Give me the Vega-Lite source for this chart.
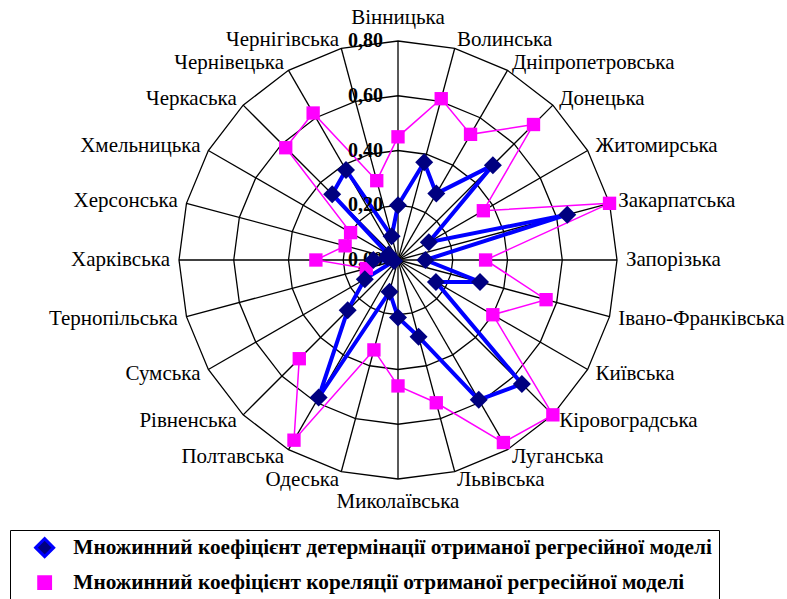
{
  "$schema": "https://vega.github.io/schema/vega-lite/v6.json",
  "width": 787,
  "height": 599,
  "padding": 0,
  "autosize": {"type": "none"},
  "background": "white",
  "config": {"view": {"stroke": null}, "font": "Liberation Serif"},
  "datasets": {
    "regions": [
      {"idx": 0, "region": "Вінницька", "det": 0.20, "cor": 0.45},
      {"idx": 1, "region": "Волинська", "det": 0.37, "cor": 0.61},
      {"idx": 2, "region": "Дніпропетровська", "det": 0.28, "cor": 0.53},
      {"idx": 3, "region": "Донецька", "det": 0.49, "cor": 0.70},
      {"idx": 4, "region": "Житомирська", "det": 0.13, "cor": 0.36},
      {"idx": 5, "region": "Закарпатська", "det": 0.64, "cor": 0.80},
      {"idx": 6, "region": "Запорізька", "det": 0.10, "cor": 0.32},
      {"idx": 7, "region": "Івано-Франківська", "det": 0.31, "cor": 0.56},
      {"idx": 8, "region": "Київська", "det": 0.16, "cor": 0.40},
      {"idx": 9, "region": "Кіровоградська", "det": 0.64, "cor": 0.80},
      {"idx": 10, "region": "Луганська", "det": 0.59, "cor": 0.77},
      {"idx": 11, "region": "Львівська", "det": 0.29, "cor": 0.54},
      {"idx": 12, "region": "Миколаївська", "det": 0.21, "cor": 0.46},
      {"idx": 13, "region": "Одеська", "det": 0.12, "cor": 0.34},
      {"idx": 14, "region": "Полтавська", "det": 0.58, "cor": 0.76},
      {"idx": 15, "region": "Рівненська", "det": 0.26, "cor": 0.51},
      {"idx": 16, "region": "Сумська", "det": 0.14, "cor": null},
      {"idx": 17, "region": "Тернопільська", "det": 0.015, "cor": 0.12},
      {"idx": 18, "region": "Харківська", "det": 0.09, "cor": 0.30},
      {"idx": 19, "region": "Херсонська", "det": 0.04, "cor": 0.20},
      {"idx": 20, "region": "Хмельницька", "det": 0.04, "cor": 0.20},
      {"idx": 21, "region": "Черкаська", "det": 0.34, "cor": 0.58},
      {"idx": 22, "region": "Чернівецька", "det": 0.38, "cor": 0.62},
      {"idx": 23, "region": "Чернігівська", "det": 0.09, "cor": 0.30}
    ],
    "ticks": [{"level": 0}, {"level": 0.2}, {"level": 0.4}, {"level": 0.6}, {"level": 0.8}]
  },
  "data": {"name": "regions"},
  "layer": [
    {
      "transform": [
        {"calculate": "[0.2, 0.4, 0.6, 0.8]", "as": "lv"},
        {"flatten": ["lv"]},
        {"calculate": "datum.lv * sin(datum.idx * PI / 12)", "as": "px"},
        {"calculate": "datum.lv * cos(datum.idx * PI / 12)", "as": "py"}
      ],
      "mark": {"type": "line", "interpolate": "linear-closed", "stroke": "black", "strokeWidth": 1.3},
      "encoding": {
        "x": {"field": "px", "type": "quantitative", "scale": {"domain": [-1.4539, 1.421], "nice": false, "zero": false}, "axis": null},
        "y": {"field": "py", "type": "quantitative", "scale": {"domain": [-1.2384, 0.9498], "nice": false, "zero": false}, "axis": null},
        "detail": {"field": "lv", "type": "nominal"},
        "order": {"field": "idx", "type": "quantitative"}
      }
    },
    {
      "transform": [
        {"calculate": "0", "as": "cx"},
        {"calculate": "0.8 * sin(datum.idx * PI / 12)", "as": "px"},
        {"calculate": "0.8 * cos(datum.idx * PI / 12)", "as": "py"}
      ],
      "mark": {"type": "rule", "stroke": "black", "strokeWidth": 1.3},
      "encoding": {
        "x": {"field": "cx", "type": "quantitative", "scale": {"domain": [-1.4539, 1.421], "nice": false, "zero": false}, "axis": null},
        "y": {"field": "cx", "type": "quantitative", "scale": {"domain": [-1.2384, 0.9498], "nice": false, "zero": false}, "axis": null},
        "x2": {"field": "px"},
        "y2": {"field": "py"}
      }
    },
    {
      "transform": [
        {"fold": ["det", "cor"], "as": ["key", "value"]},
        {"filter": "datum.key == 'cor' && isValid(datum.value)"},
        {"calculate": "datum.value * sin(datum.idx * PI / 12)", "as": "px"},
        {"calculate": "datum.value * cos(datum.idx * PI / 12)", "as": "py"},
        {"calculate": "(datum.idx + 7) % 24", "as": "ord"}
      ],
      "mark": {"type": "line", "strokeWidth": 1.5},
      "encoding": {
        "x": {"field": "px", "type": "quantitative", "scale": {"domain": [-1.4539, 1.421], "nice": false, "zero": false}, "axis": null},
        "y": {"field": "py", "type": "quantitative", "scale": {"domain": [-1.2384, 0.9498], "nice": false, "zero": false}, "axis": null},
        "order": {"field": "ord", "type": "quantitative"},
        "stroke": {
          "field": "key", "type": "nominal",
          "scale": {"domain": ["det", "cor"], "range": ["#0000FF", "#FF00FF"]},
          "legend": {
            "orient": "none", "legendX": 10, "legendY": 530, "title": null,
            "symbolSize": 300, "symbolStrokeWidth": 3, "symbolOpacity": 1,
            "labelFont": "Liberation Serif", "labelFontWeight": "bold", "labelFontSize": 21.3, "labelColor": "black", "labelLimit": 0,
            "labelOffset": 18, "symbolOffset": 17,
            "strokeColor": "black", "padding": 7, "rowPadding": 8,
            "labelExpr": "datum.label == 'det' ? 'Множинний коефіцієнт детермінації отриманої регресійної моделі' : 'Множинний коефіцієнт кореляції отриманої регресійної моделі'",
            "encode": {"symbols": {"update": {
              "stroke": {"signal": "datum.value == 'det' ? '#0000FF' : '#FF00FF'"},
              "strokeWidth": {"signal": "datum.value == 'det' ? 3 : 1.5"},
              "shape": {"signal": "datum.value == 'det' ? 'M-3,0H-0.8M0.8,0H3M0,-0.85L0.85,0L0,0.85L-0.85,0Z' : 'M-3,0H-0.77M0.77,0H3M-0.77,-0.77H0.77V0.77H-0.77Z'"}
            }}}
          }
        }
      }
    },
    {
      "transform": [
        {"fold": ["det", "cor"], "as": ["key", "value"]},
        {"filter": "datum.key == 'det' && isValid(datum.value)"},
        {"calculate": "datum.value * sin(datum.idx * PI / 12)", "as": "px"},
        {"calculate": "datum.value * cos(datum.idx * PI / 12)", "as": "py"}
      ],
      "mark": {"type": "line", "interpolate": "linear-closed", "strokeWidth": 4},
      "encoding": {
        "x": {"field": "px", "type": "quantitative", "scale": {"domain": [-1.4539, 1.421], "nice": false, "zero": false}, "axis": null},
        "y": {"field": "py", "type": "quantitative", "scale": {"domain": [-1.2384, 0.9498], "nice": false, "zero": false}, "axis": null},
        "order": {"field": "idx", "type": "quantitative"},
        "stroke": {"field": "key", "type": "nominal", "scale": {"domain": ["det", "cor"], "range": ["#0000FF", "#FF00FF"]}}
      }
    },
    {
      "data": {"name": "ticks"},
      "transform": [
        {"calculate": "0", "as": "cx"},
        {"calculate": "replace(format(datum.level, '.2f'), '.', ',')", "as": "txt"}
      ],
      "mark": {"type": "text", "align": "right", "baseline": "middle", "dx": -15, "font": "Liberation Serif", "fontWeight": "bold", "fontSize": 20, "color": "black"},
      "encoding": {
        "x": {"field": "cx", "type": "quantitative", "scale": {"domain": [-1.4539, 1.421], "nice": false, "zero": false}, "axis": null},
        "y": {"field": "level", "type": "quantitative", "scale": {"domain": [-1.2384, 0.9498], "nice": false, "zero": false}, "axis": null},
        "text": {"field": "txt"}
      }
    },
    {
      "transform": [
        {"fold": ["det", "cor"], "as": ["mk", "value"]},
        {"filter": "isValid(datum.value)"},
        {"calculate": "datum.value * sin(datum.idx * PI / 12)", "as": "px"},
        {"calculate": "datum.value * cos(datum.idx * PI / 12)", "as": "py"}
      ],
      "mark": {"type": "point", "filled": true, "opacity": 1, "strokeWidth": 0},
      "encoding": {
        "x": {"field": "px", "type": "quantitative", "scale": {"domain": [-1.4539, 1.421], "nice": false, "zero": false}, "axis": null},
        "y": {"field": "py", "type": "quantitative", "scale": {"domain": [-1.2384, 0.9498], "nice": false, "zero": false}, "axis": null},
        "order": {"field": "mk", "sort": "ascending"},
        "shape": {"field": "mk", "type": "nominal", "scale": {"domain": ["det", "cor"], "range": ["diamond", "square"]}, "legend": null},
        "size": {"field": "mk", "type": "nominal", "scale": {"domain": ["det", "cor"], "range": [324, 178]}, "legend": null},
        "fill": {
          "field": "mk", "type": "nominal",
          "scale": {"domain": ["det", "cor"], "range": ["#000080", "#FF00FF"]},
          "legend": {
            "orient": "none", "legendX": 10, "legendY": 530, "title": null,
            "symbolSize": 300, "symbolStrokeWidth": 3, "symbolOpacity": 1,
            "labelFont": "Liberation Serif", "labelFontWeight": "bold", "labelFontSize": 21.3, "labelColor": "black", "labelLimit": 0,
            "labelOffset": 18, "symbolOffset": 17,
            "strokeColor": "black", "padding": 7, "rowPadding": 8,
            "labelExpr": "datum.label == 'det' ? 'Множинний коефіцієнт детермінації отриманої регресійної моделі' : 'Множинний коефіцієнт кореляції отриманої регресійної моделі'",
            "encode": {"symbols": {"update": {
              "stroke": {"signal": "datum.value == 'det' ? '#0000FF' : '#FF00FF'"},
              "strokeWidth": {"signal": "datum.value == 'det' ? 3 : 1.5"},
              "shape": {"signal": "datum.value == 'det' ? 'M-3,0H-0.8M0.8,0H3M0,-0.85L0.85,0L0,0.85L-0.85,0Z' : 'M-3,0H-0.77M0.77,0H3M-0.77,-0.77H0.77V0.77H-0.77Z'"}
            }}}
          }
        }
      }
    },
    {
      "transform": [
        {"filter": "datum.idx > 0 && datum.idx < 12"},
        {"calculate": "0.833 * sin(datum.idx * PI / 12)", "as": "px"},
        {"calculate": "0.833 * cos(datum.idx * PI / 12)", "as": "py"}
      ],
      "mark": {"type": "text", "align": "left", "baseline": "middle", "font": "Liberation Serif", "fontSize": 21, "color": "black"},
      "encoding": {
        "x": {"field": "px", "type": "quantitative", "scale": {"domain": [-1.4539, 1.421], "nice": false, "zero": false}, "axis": null},
        "y": {"field": "py", "type": "quantitative", "scale": {"domain": [-1.2384, 0.9498], "nice": false, "zero": false}, "axis": null},
        "text": {"field": "region"}
      }
    },
    {
      "transform": [
        {"filter": "datum.idx > 12"},
        {"calculate": "0.833 * sin(datum.idx * PI / 12)", "as": "px"},
        {"calculate": "0.833 * cos(datum.idx * PI / 12)", "as": "py"}
      ],
      "mark": {"type": "text", "align": "right", "baseline": "middle", "font": "Liberation Serif", "fontSize": 21, "color": "black"},
      "encoding": {
        "x": {"field": "px", "type": "quantitative", "scale": {"domain": [-1.4539, 1.421], "nice": false, "zero": false}, "axis": null},
        "y": {"field": "py", "type": "quantitative", "scale": {"domain": [-1.2384, 0.9498], "nice": false, "zero": false}, "axis": null},
        "text": {"field": "region"}
      }
    },
    {
      "transform": [
        {"filter": "datum.idx == 0 || datum.idx == 12"},
        {"calculate": "0.885 * sin(datum.idx * PI / 12)", "as": "px"},
        {"calculate": "0.885 * cos(datum.idx * PI / 12)", "as": "py"}
      ],
      "mark": {"type": "text", "align": "center", "baseline": "middle", "font": "Liberation Serif", "fontSize": 21, "color": "black"},
      "encoding": {
        "x": {"field": "px", "type": "quantitative", "scale": {"domain": [-1.4539, 1.421], "nice": false, "zero": false}, "axis": null},
        "y": {"field": "py", "type": "quantitative", "scale": {"domain": [-1.2384, 0.9498], "nice": false, "zero": false}, "axis": null},
        "text": {"field": "region"}
      }
    }
  ]
}
